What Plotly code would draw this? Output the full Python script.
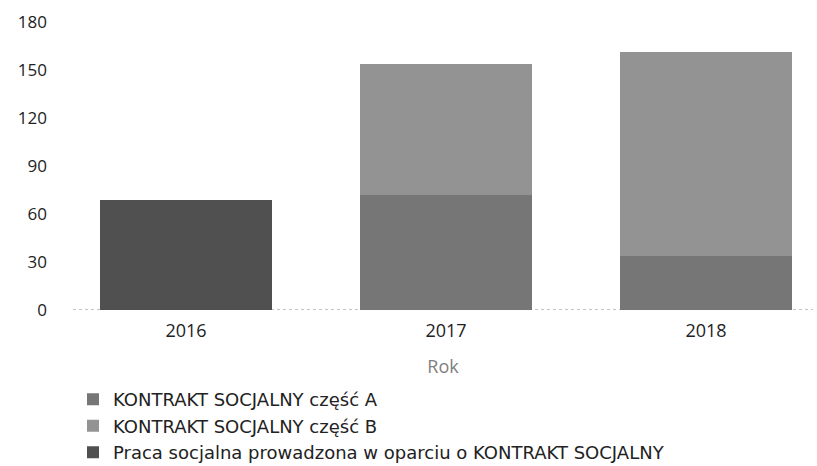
import plotly.graph_objects as go

years = ["2016", "2017", "2018"]
kontrakt_a = [0, 72, 34]
kontrakt_b = [0, 82, 127]
praca = [69, 0, 0]
y_ticks = [0, 30, 60, 90, 120, 150, 180]

names = [
    "KONTRAKT SOCJALNY część A",
    "KONTRAKT SOCJALNY część B",
    "Praca socjalna prowadzona w oparciu o KONTRAKT SOCJALNY",
]
colors = ["#767676", "#939393", "#505050"]

fig = go.Figure()
for name, vals, col in zip(names, [kontrakt_a, kontrakt_b, praca], colors):
    fig.add_trace(go.Bar(x=years, y=vals, name=name, marker=dict(color=col, line=dict(width=0))))

font_family = "Open Sans, DejaVu Sans, sans-serif"
fig.update_layout(
    template="none",
    width=817, height=466,
    barmode="stack", bargap=0.335,
    plot_bgcolor="white", paper_bgcolor="white",
    margin=dict(l=73, r=4, t=22, b=156, pad=0, autoexpand=False),
    font=dict(family=font_family, color="#222222", size=15),
    xaxis=dict(
        type="category", range=[-0.4346, 2.4115], showgrid=False, showline=False,
        zeroline=False, automargin=False, ticks="", ticklabelstandoff=8,
        tickfont=dict(size=18, color="#222222"),
        title=dict(text="Rok", font=dict(size=18, color="#808080"), standoff=19),
    ),
    yaxis=dict(
        range=[0, 180], tickvals=y_ticks, showgrid=False, showline=False, zeroline=False,
        automargin=False, ticks="",
        tickfont=dict(size=17, color="#222222"), ticklabelstandoff=25,
    ),
    legend=dict(
        orientation="v", traceorder="normal", xref="paper", yref="paper",
        x=0, y=-0.247, xanchor="left", yanchor="top",
        font=dict(size=18, color="#222222", family="DejaVu Sans, sans-serif"),
        itemwidth=30, tracegroupgap=0, bgcolor="rgba(0,0,0,0)",
    ),
    shapes=[dict(type="line", xref="paper", yref="y", x0=0, x1=1, y0=0, y1=0,
                 line=dict(color="#888888", width=1, dash="dot"), layer="below")],
)

fig.write_html(
    "out.html",
    config={"displayModeBar": False},
    post_script="document.body.style.margin='0';document.body.style.padding='0';document.body.style.overflow='hidden';",
)
